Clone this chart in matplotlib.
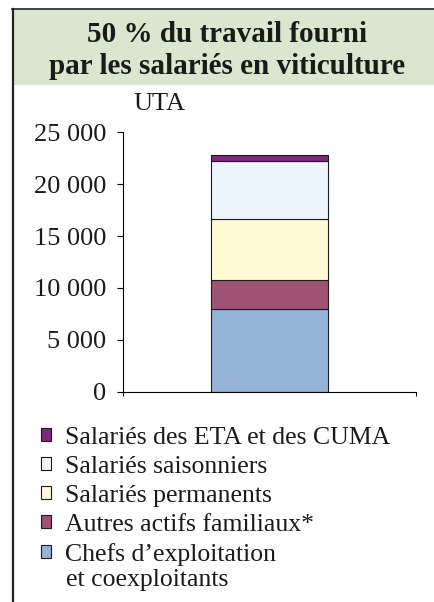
import matplotlib
matplotlib.use("Agg")
import matplotlib.pyplot as plt
from matplotlib.patches import Rectangle
from matplotlib.lines import Line2D

# stacked components, bottom to top (UTA)
categories = ["Chefs d\u2019exploitation\net coexploitants",
              "Autres actifs familiaux*",
              "Salari\u00e9s permanents",
              "Salari\u00e9s saisonniers",
              "Salari\u00e9s des ETA et des CUMA"]
values = [8000, 2800, 5850, 5600, 550]
colors = ["#95b3d7", "#a05275", "#fffad4", "#edf5fc", "#7d2a7e"]
yticks = [0, 5000, 10000, 15000, 20000, 25000]
yticklabels = ["0", "5 000", "10 000", "15 000", "20 000", "25 000"]

plt.rcParams['font.family'] = ['Liberation Serif', 'DejaVu Serif']

fig = plt.figure(figsize=(4.34, 6.02), dpi=100)
W, H = 434, 602

# frame + green title box
fig.patches.append(Rectangle((13 / W, 1 - 85 / H), 1 - 13 / W, 76 / H,
                             transform=fig.transFigure, facecolor="#dae6cd",
                             edgecolor="none", zorder=0))
fig.lines.append(Line2D([12.5 / W, 12.5 / W], [0, 1 - 9 / H],
                        transform=fig.transFigure, color="#222222", lw=1.6))
fig.lines.append(Line2D([12 / W, 1], [1 - 9 / H, 1 - 9 / H],
                        transform=fig.transFigure, color="#222222", lw=1.2))

fig.text(227 / W, 1 - 35 / H, "50 % du travail fourni", ha="center", va="center",
         fontsize=21, fontweight="bold", color="#1a1a1a")
fig.text(227 / W, 1 - 67 / H, "par les salari\u00e9s en viticulture", ha="center",
         va="center", fontsize=21, fontweight="bold", color="#1a1a1a")

ax = fig.add_axes([123 / W, 1 - 391.7 / H, 293 / W, 259.4 / H])
bottom = 0
bars = []
for v, c, lab in zip(values, colors, categories):
    b = ax.bar(0, v, width=0.4, bottom=bottom, color=c, edgecolor="#1a1a1a",
               linewidth=0.8, label=lab)
    bars.append(b)
    bottom += v

ax.set_xlim(-0.5, 0.5)
ax.set_ylim(0, 25000)
ax.set_yticks(yticks)
ax.set_yticklabels(yticklabels, fontsize=19, color="#1a1a1a")
ax.set_xticks([-0.5, 0.5])
ax.set_xticklabels([])
ax.tick_params(axis="y", direction="out", length=4, width=0.8, pad=8)
ax.tick_params(axis="x", direction="out", length=3, width=0.8)
for s in ["top", "right"]:
    ax.spines[s].set_visible(False)
ax.spines["left"].set_linewidth(0.8)
ax.spines["bottom"].set_linewidth(0.8)

fig.text(133 / W, 1 - 104 / H, "UTA", ha="left", va="center", fontsize=19,
         color="#1a1a1a")

# legend: first line of each label beside the square, continuation lines below
first_lines = [c.split("\n")[0] for c in categories[::-1]]
leg = fig.legend(handles=[b[0] for b in bars[::-1]], labels=first_lines,
                 loc="upper left", bbox_to_anchor=(28 / W, 1 - 414 / H),
                 frameon=False, fontsize=18.5, handlelength=0.38, handleheight=0.38,
                 handletextpad=0.55, labelspacing=0.27, borderpad=0)
for t in leg.get_texts():
    t.set_color("#1a1a1a")
extra = categories[0].split("\n")[1]
fig.text(66 / W, 1 - 580 / H, extra, ha="left", va="center", fontsize=18.5,
         color="#1a1a1a")

fig.savefig("out.png", dpi=100)
